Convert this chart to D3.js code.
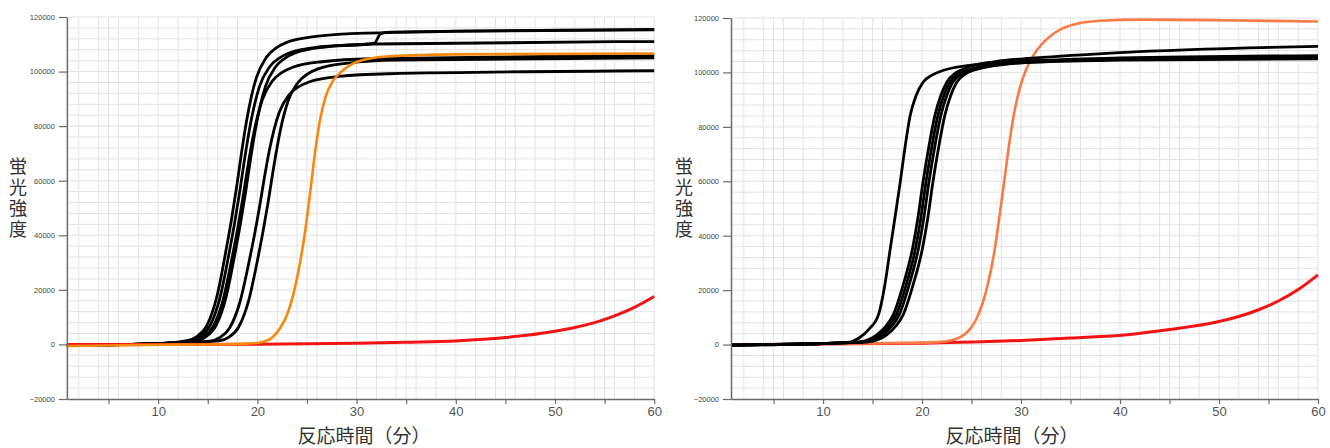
<!DOCTYPE html>
<html>
<head>
<meta charset="utf-8">
<script src="https://cdn.jsdelivr.net/npm/d3@7"></script>
<style>
  body { margin: 0; background: #fff; }
  svg { display: block; }
  .tick text { font-family: "Liberation Sans", Arial, sans-serif; }
</style>
</head>
<body>
<div id="chart"></div>
<script>
// ---- data: [minutes, fluorescence] ----
const xLabelTicks = [10, 20, 30, 40, 50, 60];
const yTicks = [-20000, 0, 20000, 40000, 60000, 80000, 100000, 120000];

// left panel
const leftBlack1 = [[0.8,-300],[10,300],[12.9,1400],[13.9,2900],[14.9,6900],[15.9,17300],[16.9,35700],[17.4,46000],[17.9,57500],[18.4,70200],[18.9,81700],[19.4,90900],[19.9,97800],[20.9,105200],[21.9,108700],[22.9,110600],[25.9,112900],[30.9,114100],[60,115500]];
const leftBlack2 = [[0.8,-300],[10,300],[13.2,1300],[14.2,2800],[15.2,6700],[16.2,16700],[17.2,34400],[17.7,44400],[18.2,55500],[18.7,67700],[19.2,78800],[19.7,87700],[20.2,94400],[21.2,101600],[22.2,104900],[23.2,106800],[26.2,109000],[31.2,110100],[31.8,110400],[32.4,113800],[33,114400],[40,114800],[60,115300]];
const leftBlack3 = [[0.8,-300],[10,300],[13.5,1300],[14.5,2600],[15.5,6300],[16.5,15800],[17.5,32700],[18,42200],[18.5,52800],[19,64400],[19.5,74900],[20,83400],[20.5,89700],[21.5,96500],[22.5,99700],[23.5,101500],[26.5,103600],[31.5,104700],[60,105800]];
const leftBlack4 = [[0.8,-300],[10,300],[13.8,1300],[14.8,2800],[15.8,6700],[16.8,16700],[17.8,34400],[18.3,44400],[18.8,55500],[19.3,67700],[19.8,78800],[20.3,87700],[20.8,94400],[21.8,101600],[22.8,104900],[23.8,106800],[26.8,109000],[31.8,110100],[60,111000]];
const leftBlack5 = [[0.8,-300],[10,300],[15.2,1200],[16.2,2500],[17.2,6000],[18.2,15000],[19.2,31000],[19.7,40000],[20.2,50000],[20.7,61000],[21.2,71000],[21.7,79000],[22.2,85000],[23.2,91500],[24.2,94500],[25.2,96200],[28.2,98200],[33.2,99200],[60,100300]];
const leftBlack6 = [[0.8,-300],[10,300],[16.1,1300],[17.1,2600],[18.1,6300],[19.1,15800],[20.1,32500],[20.6,42000],[21.1,52500],[21.6,64000],[22.1,74500],[22.6,83000],[23.1,89300],[24.1,96000],[25.1,99200],[26.1,101000],[29.1,103100],[34.1,104200],[60,105000]];
const leftOrange = [[0.8,-600],[5,-400],[10,-100],[15,0],[19,300],[20.5,900],[21.5,2500],[22.3,6000],[23,11000],[23.6,18000],[24.2,28000],[24.8,41000],[25.3,55000],[25.8,70000],[26.3,82000],[26.9,91000],[27.6,96500],[28.5,100000],[30,103500],[33,105500],[40,106300],[60,106600]];
const leftRed = [[0.8,0],[10,0],[20,100],[30,400],[35,800],[40,1300],[45,2500],[50,4800],[52,6200],[54,8000],[56,10500],[58,13600],[60,17600]];

// right panel
const rightBlack1 = [[0.7,-200],[5,100],[10,400],[12.7,900],[13.7,2600],[14.6,5500],[15.6,11000],[16.2,21000],[16.8,35500],[17.3,47500],[17.8,59800],[18.3,73000],[18.8,84200],[19.4,91500],[20.1,96400],[21,99000],[22.1,100700],[25,102700],[30,104000],[40,104800],[60,105500]];
const rightBlack2 = [[0.7,-200],[10,400],[13.4,900],[14.4,1600],[15.4,3500],[16.4,7000],[17.1,11000],[18.1,22000],[19.05,35500],[19.6,47000],[20.1,59800],[20.7,73000],[21.3,84200],[21.9,91500],[22.5,96400],[23.4,99800],[24.4,101600],[27.4,104000],[31.4,105300],[40,107300],[60,109600]];
const rightBlack3 = [[0.7,-200],[10,400],[13.7,900],[14.7,1600],[15.7,3500],[16.7,7000],[17.4,11000],[18.4,22000],[19.35,35500],[19.9,47000],[20.4,59800],[21,73000],[21.6,84200],[22.2,91500],[22.8,96400],[23.7,99500],[24.7,101000],[27.7,103200],[31.7,104300],[40,105300],[60,106200]];
const rightBlack4 = [[0.7,-200],[10,400],[14,900],[15,1600],[16,3500],[17,7000],[17.7,11000],[18.7,22000],[19.65,35500],[20.2,47000],[20.7,59800],[21.3,73000],[21.9,84200],[22.5,91500],[23.1,96400],[24,99500],[25,101000],[28,103000],[32,104000],[40,104800],[60,105400]];
const rightBlack5 = [[0.7,-200],[10,400],[14.4,900],[15.4,1600],[16.4,3500],[17.4,7000],[18.1,11000],[19.1,22000],[20.05,35500],[20.6,47000],[21.1,59800],[21.7,73000],[22.3,84200],[22.9,91500],[23.5,96400],[24.4,99500],[25.4,101000],[28.4,103000],[32.4,103900],[40,104500],[60,105000]];
const rightOrange = [[0.7,0],[10,300],[20,700],[22,1000],[23,1600],[24,3000],[24.8,5500],[25.5,9500],[26.1,15000],[26.7,23000],[27.3,34000],[27.8,46500],[28.3,60000],[28.8,73500],[29.3,85000],[29.9,94500],[30.5,101000],[31.2,106000],[32,110000],[33,113500],[34.2,116200],[36,118200],[38,119000],[42,119400],[50,119200],[60,118700]];
const rightRed = [[0.7,0],[10,200],[20,500],[30,1500],[35,2400],[41,3700],[45,5500],[50,8500],[52,10300],[54,12800],[56,16000],[58,20200],[60,25600]];

const svg = d3.select("#chart").append("svg")
    .attr("width", 1330)
    .attr("height", 448);

function drawPanel(cfg, series) {
    const x = d3.scaleLinear().domain(cfg.xDomain).range([cfg.left, cfg.right]);
    const y = d3.scaleLinear().domain([-20000, 120000]).range([cfg.bottom, cfg.top]);
    const g = svg.append("g");

    // grid: every 2 min plus every 5 min, every 4000 vertically
    const gridX = Array.from(new Set(d3.range(2, 61, 2).concat(d3.range(5, 61, 5)))).filter(d => d > cfg.xDomain[0]);
    g.append("g").selectAll("line").data(gridX).join("line")
        .attr("x1", d => x(d)).attr("x2", d => x(d))
        .attr("y1", y(-20000)).attr("y2", y(120000))
        .attr("stroke", "#e3e3e3").attr("stroke-width", 1);
    g.append("g").selectAll("line").data(d3.range(-16000, 120001, 4000)).join("line")
        .attr("x1", x(cfg.xDomain[0])).attr("x2", x(60))
        .attr("y1", d => y(d)).attr("y2", d => y(d))
        .attr("stroke", "#e3e3e3").attr("stroke-width", 1);

    // curves
    const line = d3.line()
        .x(d => x(d[0]))
        .y(d => y(d[1]))
        .curve(d3.curveMonotoneX);
    series.forEach(s => {
        g.append("path")
            .datum(s.data)
            .attr("fill", "none")
            .attr("stroke", s.color)
            .attr("stroke-width", s.width)
            .attr("stroke-linejoin", "round")
            .attr("d", line);
    });

    // axes
    const yAxis = g.append("g")
        .attr("transform", `translate(${cfg.left},0)`)
        .call(d3.axisLeft(y).tickValues(yTicks).tickSize(8).tickSizeOuter(0).tickFormat(d3.format("d")));
    yAxis.selectAll("text").attr("font-size", 7.5).attr("fill", "#444").attr("dx", -1);

    const xAxis = g.append("g")
        .attr("transform", `translate(0,${cfg.bottom})`)
        .call(d3.axisBottom(x).tickValues(d3.range(5, 61, 5)).tickSize(5).tickSizeOuter(0)
            .tickFormat(d => xLabelTicks.includes(d) ? d : ""));
    xAxis.selectAll("text").attr("font-size", 13).attr("fill", "#555").attr("dy", "0.7em")
        .attr("font-family", "'Open Sans', 'Liberation Sans', sans-serif");

    [yAxis, xAxis].forEach(a => {
        a.select(".domain").attr("stroke", "#6a6a6a").attr("stroke-width", 1.5);
        a.selectAll(".tick line").attr("stroke", "#6a6a6a").attr("stroke-width", 1.2);
    });

    // axis titles (vertical one written top to bottom)
    g.append("text")
        .attr("x", cfg.yTitleX)
        .attr("y", 157)
        .style("writing-mode", "vertical-rl")
        .style("text-orientation", "upright")
        .style("letter-spacing", "3px")
        .attr("font-family", "'Noto Sans CJK JP', sans-serif")
        .attr("font-size", 18)
        .attr("fill", "#333")
        .text("蛍光強度");

    g.append("text")
        .attr("x", cfg.xTitleX)
        .attr("y", 442.5)
        .attr("text-anchor", "middle")
        .attr("font-family", "'Noto Sans CJK JP', sans-serif")
        .attr("font-size", 19)
        .attr("fill", "#333")
        .text("反応時間（分）");
}

drawPanel(
    {xDomain: [0.8, 60], left: 66.9, right: 654.2, top: 17, bottom: 399, yTitleX: 18, xTitleX: 364},
    [
        {data: leftBlack1, color: "#000", width: 2.8},
        {data: leftBlack2, color: "#000", width: 2.8},
        {data: leftBlack3, color: "#000", width: 2.8},
        {data: leftBlack4, color: "#000", width: 2.8},
        {data: leftBlack5, color: "#000", width: 2.8},
        {data: leftBlack6, color: "#000", width: 2.8},
        {data: leftRed, color: "#f21414", width: 3},
        {data: leftOrange, color: "#f7880f", width: 2.6}
    ]
);

drawPanel(
    {xDomain: [0.7, 60], left: 731, right: 1318, top: 18, bottom: 399, yTitleX: 684, xTitleX: 1012},
    [
        {data: rightRed, color: "#f21414", width: 3},
        {data: rightOrange, color: "#f97a45", width: 2.6},
        {data: rightBlack1, color: "#000", width: 2.8},
        {data: rightBlack2, color: "#000", width: 2.8},
        {data: rightBlack3, color: "#000", width: 2.8},
        {data: rightBlack4, color: "#000", width: 2.8},
        {data: rightBlack5, color: "#000", width: 2.8}
    ]
);
</script>
</body>
</html>
